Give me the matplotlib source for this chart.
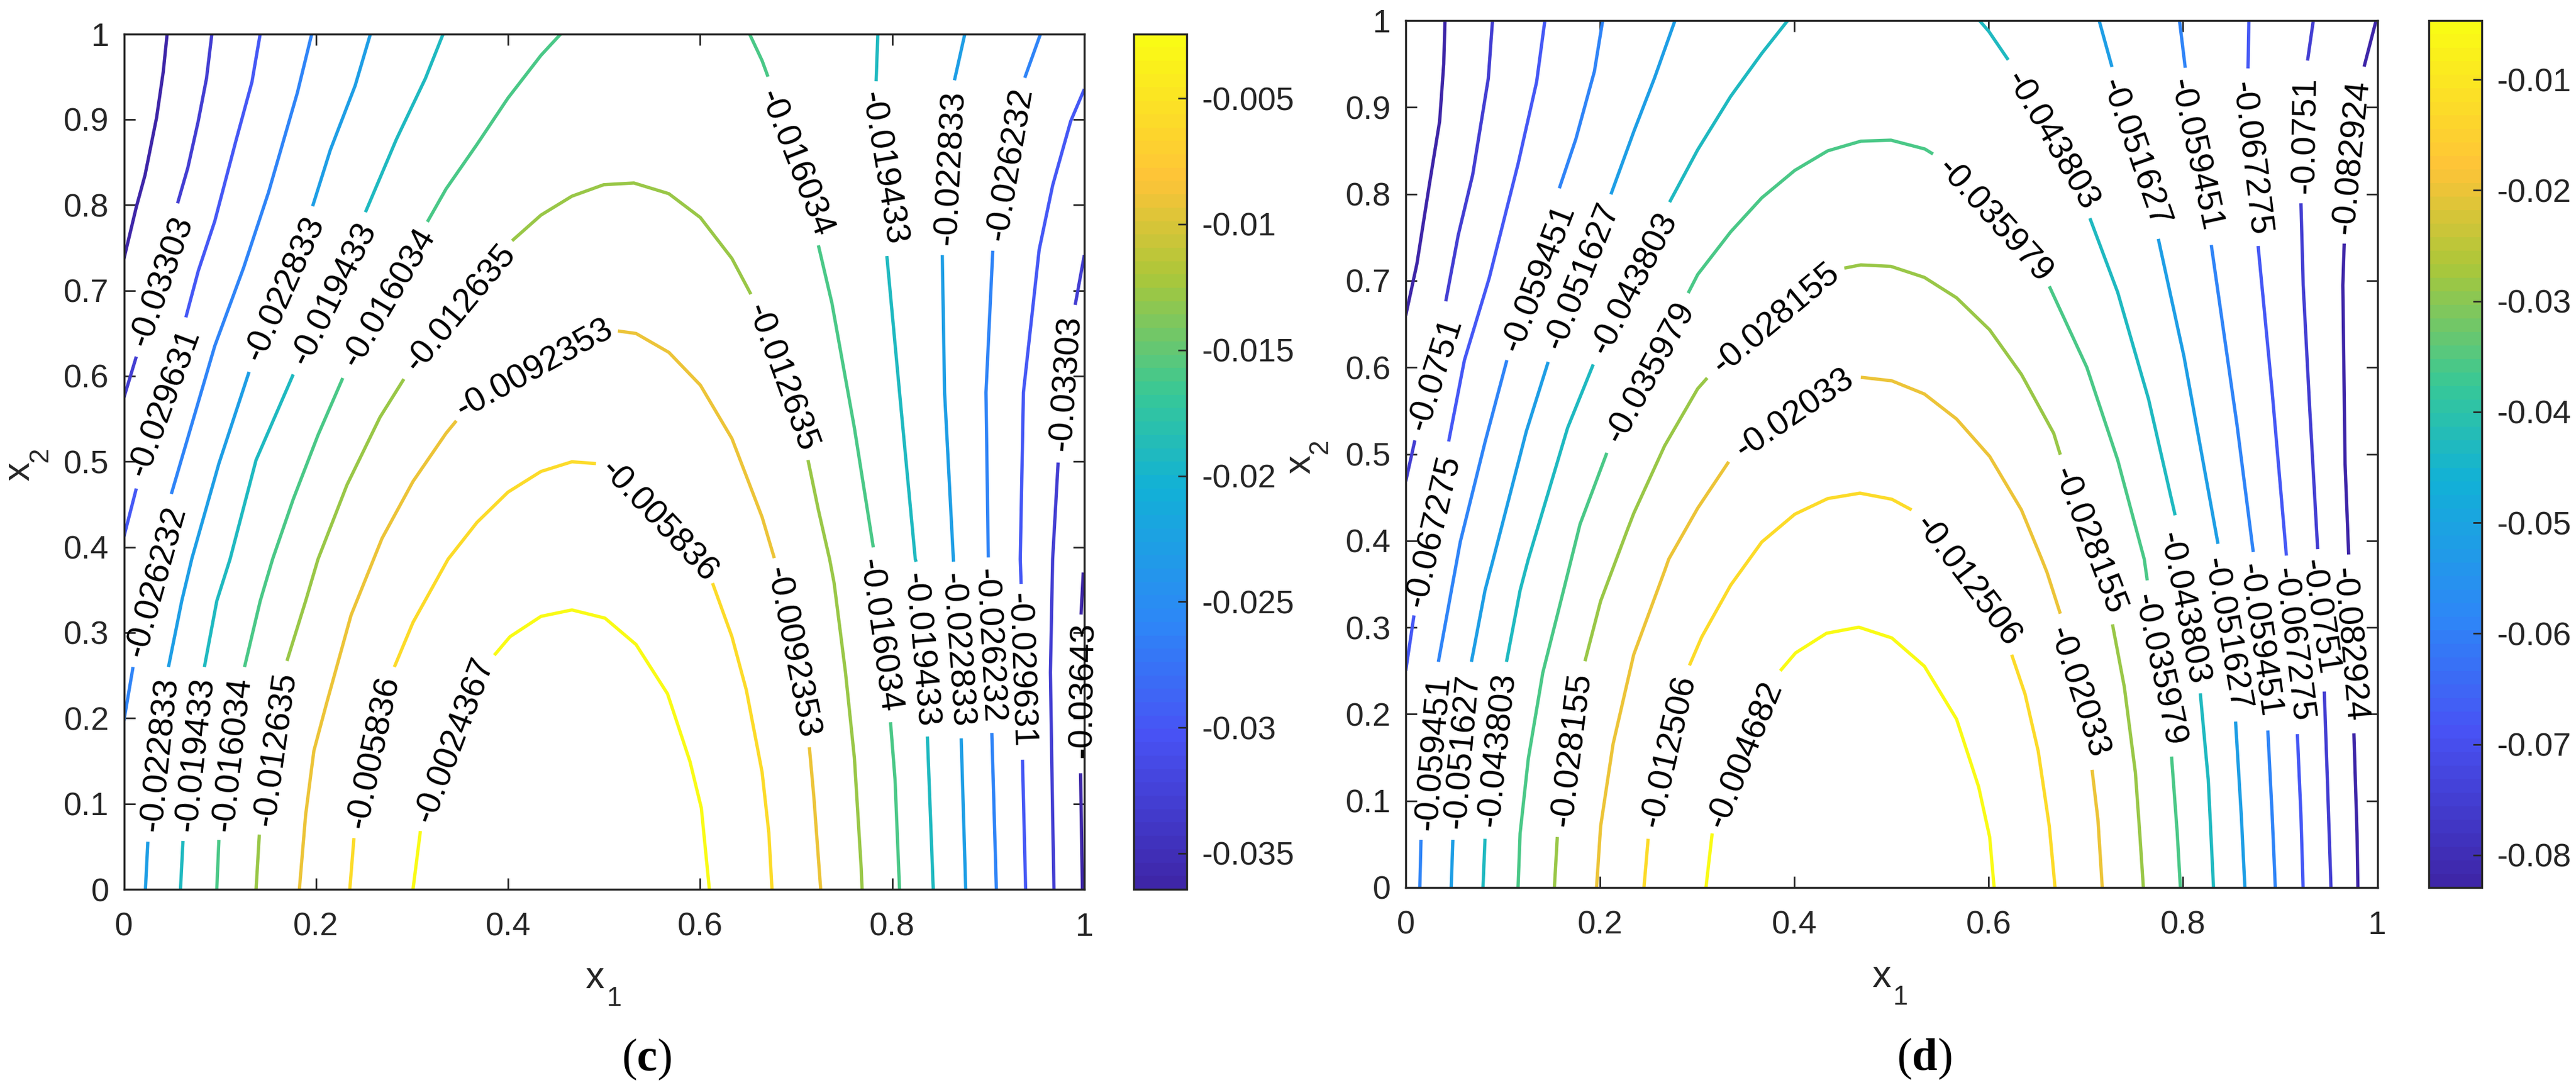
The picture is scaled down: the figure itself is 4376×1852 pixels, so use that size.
import matplotlib
matplotlib.use("Agg")
import matplotlib.pyplot as plt
from matplotlib.cm import ScalarMappable
from matplotlib.colors import LinearSegmentedColormap, Normalize

W, H = 4376, 1852
DARK = "#262626"

plt.rcParams["font.family"] = ["Liberation Sans", "DejaVu Sans"]
plt.rcParams["mathtext.fontset"] = "custom"
plt.rcParams["mathtext.rm"] = "Liberation Serif"
plt.rcParams["mathtext.bf"] = "Liberation Serif:bold"

PARULA_POS = [0.0, 0.175, 0.31, 0.47, 0.58, 0.72, 0.835, 1.0]
PARULA_RGB = [
    (0.2422, 0.1504, 0.6603), (0.2810, 0.3228, 0.9579), (0.1786, 0.5289, 0.9682),
    (0.0689, 0.6948, 0.8394), (0.2161, 0.7843, 0.5923), (0.6720, 0.7793, 0.2227),
    (0.9970, 0.7659, 0.2199), (0.9769, 0.9839, 0.0805),
]

X_TICKS = [0, 0.2, 0.4, 0.6, 0.8, 1]
Y_TICKS = [0, 0.1, 0.2, 0.3, 0.4, 0.5, 0.6, 0.7, 0.8, 0.9, 1]

# panel (c): colour range and colorbar ticks
CLIM_C = (-0.03643, -0.0024367)
CB_TICKS_C = [-0.035, -0.03, -0.025, -0.02, -0.015, -0.01, -0.005]

# each contour: level, then its pieces between the inline labels
CONTOURS_C = [
    (-0.03643, [
        [(.045, 1), (.041, .956), (.034, .902), (.022, .835), (.013, .798), (0, .737)],
        [(.9989, .3704), (.9966, .3212)],
        [(.9961, .1357), (.998, 0)],
    ]),
    (-0.03303, [
        [(.0916, 1), (.086, .948), (.0774, .898), (.0666, .8437), (.0559, .802)],
        [(.0129, .6227), (0, .5748)],
        [(1, .7415), (.9905, .6832)],
        [(.9727, .4989), (.967, .3859), (.9647, .2537), (.967, .0869), (.9684, 0)],
    ]),
    (-0.029631, [
        [(.1419, 1), (.1333, .9437), (.1161, .8728), (.0946, .7811), (.0774, .7228), (.0645, .6686)],
        [(.0129, .4685), (0, .4122)],
        [(1, .9354), (.9858, .8979), (.967, .8228), (.953, .7478), (.9366, .581), (.9333, .3859), (.9342, .357)],
        [(.9356, .1515), (.9389, 0)],
    ]),
    (-0.026232, [
        [(.1956, 1), (.1806, .9312), (.1505, .8145), (.1247, .7269), (.0946, .6352), (.0494, .4622)],
        [(.0095, .2599), (0, .197)],
        [(.9544, 1), (.938, .9487)],
        [(.9047, .7465), (.8976, .581), (.9, .3879)],
        [(.9037, .1828), (.9084, 0)],
    ]),
    (-0.022833, [
        [(.2567, 1), (.2408, .9396), (.215, .8645), (.1965, .7986)],
        [(.1303, .6048), (.0989, .4977), (.0709, .3872), (.0602, .337), (.0464, .2599)],
        [(.0249, .0556), (.0224, 0)],
        [(.8756, 1), (.8648, .9458)],
        [(.8521, .7415), (.8545, .581), (.8638, .3829)],
        [(.8718, .1765), (.8765, 0)],
    ]),
    (-0.019433, [
        [(.3324, 1), (.3139, .9479), (.2838, .877), (.2515, .7916)],
        [(.1763, .6019), (.1376, .5018), (.1105, .3859), (.0967, .337), (.0838, .2599)],
        [(.0615, .0565), (.0589, 0)],
        [(.785, 1), (.7832, .9446)],
        [(.7944, .7403), (.8076, .581), (.824, .3859), (.8249, .3829)],
        [(.8366, .1786), (.8427, 0)],
    ]),
    (-0.016034, [
        [(.4549, 1), (.4343, .975), (.3999, .925), (.3676, .8708), (.3354, .8187), (.316, .7803)],
        [(.2279, .5977), (.2021, .531), (.1763, .456), (.1548, .3859), (.1419, .337), (.1256, .2599)],
        [(.0989, .0577), (.0967, 0)],
        [(.6514, 1), (.6645, .9687), (.6706, .95)],
        [(.7231, .7528), (.7372, .6853), (.7606, .5394), (.7803, .3997)],
        [(.7982, .1953), (.8029, .1286), (.8076, 0)],
    ]),
    (-0.012635, [
        [(.4042, .7582), (.4343, .7882), (.4665, .8103), (.4996, .8237), (.531, .8257),
         (.5674, .8132), (.6002, .7853), (.6331, .7374), (.6528, .6957)],
        [(.7123, .5018), (.7231, .4435), (.7348, .3859), (.7395, .3579), (.7513, .2537),
         (.7606, .1536), (.7677, .0244), (.7686, 0)],
        [(.2915, .5965), (.2666, .5518), (.2322, .4726), (.2021, .3859), (.1892, .337), (.1698, .267)],
        [(.141, .064), (.1376, 0)],
    ]),
    (-0.0092353, [
        [(.5144, .6527), (.5332, .6498), (.5674, .6277), (.6002, .5894), (.6331, .5269),
         (.6645, .4351), (.6772, .3872)],
        [(.7137, .1661), (.7184, .1077), (.7255, 0)],
        [(.3461, .5477), (.3354, .5331), (.301, .4768), (.2687, .4101), (.2365, .3204),
         (.2107, .2161), (.1978, .1619), (.1892, .0869), (.1827, 0)],
    ]),
    (-0.005836, [
        [(.4915, .4977), (.4665, .4998), (.4343, .4885), (.3999, .4643), (.3676, .4289),
         (.3375, .3859), (.301, .312), (.2816, .2599)],
        [(.2395, .0598), (.2352, 0)],
        [(.6129, .3579), (.6331, .2953), (.6481, .2328), (.6645, .1369), (.6715, .0661), (.6748, 0)],
    ]),
    (-0.0024367, [
        [(.3857, .2737), (.402, .2953), (.4343, .3191), (.4665, .3266), (.5009, .317),
         (.5332, .2862), (.566, .2286), (.5894, .1494), (.6012, .0952), (.6096, 0)],
        [(.3087, .0681), (.301, 0)],
    ]),
]

# inline labels: text, x, y, angle
LABELS_C = [
    ("-0.03303", .0396, .7103, 70.7), ("-0.029631", .0421, .5685, 69.7),
    ("-0.026232", .0335, .360, 74.5), ("-0.022833", .1677, .7019, 66),
    ("-0.019433", .2184, .6957, 63.5), ("-0.016034", .2760, .6915, 59.6),
    ("-0.012635", .3504, .6790, 50.4), ("-0.0092353", .4278, .6081, 28.9),
    ("-0.005836", .557, .430, -46.6), ("-0.016034", .6987, .8487, -68.6),
    ("-0.019433", .7897, .8428, -80.5), ("-0.022833", .8606, .8437, 87),
    ("-0.026232", .9225, .8478, 80.4), ("-0.012635", .6847, .5977, -69.8),
    ("-0.03303", .9811, .5915, 86), ("-0.022833", .0378, .1578, 84),
    ("-0.019433", .0744, .1578, 83.5), ("-0.016034", .1127, .1578, 83.5),
    ("-0.012635", .1578, .164, 82), ("-0.005836", .2601, .1599, 78),
    ("-0.0024367", .344, .1744, 69.3), ("-0.0092353", .6950, .2766, -79),
    ("-0.016034", .7864, .2962, -82), ("-0.019433", .8287, .2795, -85),
    ("-0.022833", .8662, .2795, -86), ("-0.026232", .9, .2849, -87),
    ("-0.029631", .9328, .2557, -88), ("-0.03643", .999, .2328, 89),
]

# panel (d)
CLIM_D = (-0.082924, -0.004682)
CB_TICKS_D = [-0.08, -0.07, -0.06, -0.05, -0.04, -0.03, -0.02, -0.01]

CONTOURS_D = [
    (-0.082924, [
        [(.0404, 1), (.0391, .9498), (.0349, .8839), (.0242, .8099), (.0115, .7194), (0, .6598)],
        [(.9987, 1), (.9864, .9469)],
        [(.9659, .7428), (.9645, .6947), (.9668, .489), (.9705, .3841)],
        [(.9759, .1778), (.9791, .0624), (.98, 0)],
    ]),
    (-0.0751, [
        [(.0893, 1), (.085, .9333), (.0689, .8222), (.054, .7523), (.0412, .6762)],
        [(.0094, .5158), (0, .4685)],
        [(.9341, 1), (.9282, .9539)],
        [(.9214, .7893), (.9237, .6947), (.9305, .5507), (.9386, .3903)],
        [(.9454, .2261), (.9486, .1242), (.9523, 0)],
    ]),
    (-0.067275, [
        [(.1432, 1), (.1347, .9292), (.1156, .8346), (.0859, .7029), (.0604, .6083), (.0442, .5145)],
        [(.0085, .3139), (0, .25)],
        [(.8678, 1), (.8669, .9448)],
        [(.8773, .74), (.8918, .5713), (.9064, .3829)],
        [(.9177, .177), (.9214, .083), (.9236, 0)],
    ]),
    (-0.059451, [
        [(.2027, 1), (.1942, .9415), (.1751, .8634), (.1581, .8066)],
        [(.1041, .6083), (.0816, .5137), (.0561, .3985), (.0497, .3592), (.0336, .2603)],
        [(.0157, .055), (.0145, 0)],
        [(.7964, 1), (.8023, .9456)],
        [(.8291, .7412), (.8555, .5343), (.8723, .387)],
        [(.8873, .1811), (.8918, .083), (.895, 0)],
    ]),
    (-0.051627, [
        [(.2771, 1), (.2559, .9333), (.2346, .8716), (.2112, .7996)],
        [(.1466, .6063), (.1241, .5261), (.0901, .3788), (.0816, .3427), (.0676, .2603)],
        [(.0485, .055), (.0468, 0)],
        [(.7137, 1), (.7269, .9465)],
        [(.7746, .7482), (.801, .6125), (.836, .3965)],
        [(.8541, .1914), (.86, .083), (.8637, 0)],
    ]),
    (-0.043803, [
        [(.3931, 1), (.3664, .9621), (.3345, .9127), (.3005, .851), (.2716, .7906)],
        [(.193, .6034), (.1666, .5302), (.1262, .3788), (.1177, .3427), (.1037, .2603)],
        [(.0816, .0562), (.0795, 0)],
        [(.5906, 1), (.6001, .9876), (.6201, .9547)],
        [(.7042, .772), (.7328, .6865), (.7646, .5631), (.7919, .4294)],
        [(.8178, .224), (.826, .1242), (.8314, 0)],
    ]),
    (-0.035979, [
        [(.5427, .8461), (.5343, .8519), (.4994, .8621), (.4684, .8609), (.4344, .8498),
         (.4004, .8272), (.3664, .7955), (.3345, .7564), (.3005, .7071), (.2907, .6857)],
        [(.207, .5014), (.1794, .4191), (.1624, .3427), (.1411, .2479), (.1262, .149),
         (.1177, .0624), (.1156, 0)],
        [(.6624, .6935), (.701, .6001), (.7328, .4931), (.7601, .3788), (.7632, .3543)],
        [(.7882, .151), (.7941, .0624), (.7973, 0)],
    ]),
    (-0.028155, [
        [(.4514, .7145), (.4684, .7182), (.4994, .7165), (.5338, .7038), (.5669, .6803),
         (.601, .6433), (.6337, .5919), (.6669, .524), (.6737, .4993)],
        [(.7274, .3036), (.7396, .2314), (.751, .1325), (.7555, .0624), (.7592, 0)],
        [(.3103, .5878), (.3005, .5754), (.2665, .5096), (.2346, .4314), (.2282, .4128),
         (.2006, .3304), (.1845, .2611)],
        [(.156, .0583), (.153, 0)],
    ]),
    (-0.02033, [
        [(.4684, .5886), (.5003, .5845), (.5338, .5693), (.5669, .5405), (.601, .4973),
         (.6337, .4356), (.6546, .3788), (.6601, .3633), (.6737, .3159)],
        [(.7064, .1358), (.7124, .0789), (.7169, 0)],
        [(.3324, .4911), (.3005, .4376), (.2707, .3788), (.2665, .3654), (.2346, .2685),
         (.2134, .1655), (.2006, .0707), (.1964, 0)],
    ]),
    (-0.012506, [
        [(.5207, .4356), (.5003, .4479), (.4675, .4549), (.4344, .4487), (.4004, .4306),
         (.3664, .3985), (.3345, .3489), (.3047, .2891), (.292, .2562)],
        [(.2495, .0562), (.2452, 0)],
        [(.6237, .2685), (.6374, .2232), (.651, .1572), (.6624, .0707), (.6683, 0)],
    ]),
    (-0.004682, [
        [(.3855, .25), (.4012, .2706), (.4331, .2933), (.4663, .3003), (.5003, .2879),
         (.5338, .2553), (.5669, .1943), (.5897, .116), (.601, .0583), (.6056, 0)],
        [(.3154, .0624), (.309, 0)],
    ]),
]

LABELS_D = [
    ("-0.0751", .0306, .5919, 72.3), ("-0.067275", .0285, .411, 77),
    ("-0.059451", .1369, .7029, 69), ("-0.051627", .1815, .7050, 68.3),
    ("-0.043803", .2355, .6968, 63), ("-0.035979", .2516, .5939, 61.6),
    ("-0.028155", .3812, .6556, 39.9), ("-0.02033", .4004, .5466, 34.3),
    ("-0.035979", .6056, .7688, -48), ("-0.043803", .6646, .8613, -59.7),
    ("-0.051627", .7501, .8469, -70.8), ("-0.059451", .8123, .8449, -77.8),
    ("-0.067275", .8691, .8407, -83.2), ("-0.0751", .9259, .8675, 89),
    ("-0.082924", .9736, .8428, 84.3), ("-0.012506", .578, .353, -53),
    ("-0.028155", .703, .400, -69), ("-0.02033", .6919, .2252, -72),
    ("-0.035979", .7746, .2512, -78), ("-0.043803", .800, .322, -78.7),
    ("-0.051627", .8441, .2924, -80), ("-0.059451", .8782, .285, -82),
    ("-0.067275", .9123, .28, -83), ("-0.0751", .9396, .3118, -81.6),
    ("-0.082924", .97, .28, -85), ("-0.059451", .0285, .1552, 85),
    ("-0.051627", .0582, .1572, 85), ("-0.043803", .0944, .1593, 84),
    ("-0.028155", .1709, .1593, 83), ("-0.012506", .2707, .1572, 77),
    ("-0.004682", .3494, .1531, 68),
]

cmap = LinearSegmentedColormap.from_list("parula_like", list(zip(PARULA_POS, PARULA_RGB)), N=64)


def add_axes_px(fig, left, top, right, bottom):
    return fig.add_axes([left / W, 1 - bottom / H, (right - left) / W, (bottom - top) / H])


def put_text(fig, x, y, s, **kw):
    fig.text(x / W, 1 - y / H, s, **kw)


def draw_panel(fig, box, cb_box, clim, contours, labels, cb_ticks):
    ax = add_axes_px(fig, *box)
    norm = Normalize(*clim)
    for level, pieces in contours:
        for piece in pieces:
            xs, ys = zip(*piece)
            ax.plot(xs, ys, color=cmap(norm(level)), lw=2.0, solid_capstyle="butt")
    for text, x, y, angle in labels:
        ax.text(x, y, text, rotation=angle, rotation_mode="anchor", ha="center", va="center",
                fontsize=21, color="black", zorder=5, clip_on=False)

    ax.set_xlim(0, 1)
    ax.set_ylim(0, 1)
    ax.set_xticks(X_TICKS)
    ax.set_xticklabels([f"{v:g}" for v in X_TICKS])
    ax.set_yticks(Y_TICKS)
    ax.set_yticklabels([f"{v:g}" for v in Y_TICKS])
    ax.tick_params(axis="x", direction="in", top=True, length=7, width=1, pad=14,
                   labelsize=20, color=DARK, labelcolor=DARK)
    ax.tick_params(axis="y", direction="in", right=True, length=7, width=1, pad=9,
                   labelsize=20, color=DARK, labelcolor=DARK)
    for spine in ax.spines.values():
        spine.set_linewidth(1.25)
        spine.set_color(DARK)

    cax = add_axes_px(fig, *cb_box)
    cb = fig.colorbar(ScalarMappable(norm=norm, cmap=cmap), cax=cax)
    cb.set_ticks(cb_ticks)
    cb.set_ticklabels([f"{v:g}" for v in cb_ticks])
    cax.tick_params(direction="in", length=5.4, width=1, pad=9, labelsize=20,
                    color=DARK, labelcolor=DARK)
    cb.outline.set_linewidth(1.25)
    cb.outline.set_edgecolor(DARK)


def axis_name(fig, x1, x2, y1, y2):
    """x_1 and x_2 are set as separate texts, the subscript sits low in the original."""
    style = dict(color=DARK, ha="center", va="baseline", rotation_mode="anchor")
    put_text(fig, x1[0], x1[1], "x", fontsize=23, **style)
    put_text(fig, x2[0], x2[1], "1", fontsize=16.5, **style)
    put_text(fig, y1[0], y1[1], "x", fontsize=23, rotation=90, **style)
    put_text(fig, y2[0], y2[1], "2", fontsize=16.5, rotation=90, **style)


fig = plt.figure(figsize=(W / 200, H / 200), dpi=200)

draw_panel(fig, (210.5, 57.6, 1842, 1511), (1926, 57.6, 2016, 1511), CLIM_C, CONTOURS_C, LABELS_C, CB_TICKS_C)
draw_panel(fig, (2388, 35, 4038.5, 1508), (4126, 35, 4216, 1508), CLIM_D, CONTOURS_D, LABELS_D, CB_TICKS_D)

axis_name(fig, (1010, 1679), (1043, 1709), (49, 801), (81, 772))
axis_name(fig, (3196, 1677), (3228, 1707), (2225, 789), (2255, 758))

put_text(fig, 1098, 1800, r"$(\mathbf{c})$", fontsize=28, ha="center", va="center", color="black")
put_text(fig, 3269, 1799, r"$(\mathbf{d})$", fontsize=28, ha="center", va="center", color="black")

fig.savefig("out.png", dpi=200)
plt.close(fig)
